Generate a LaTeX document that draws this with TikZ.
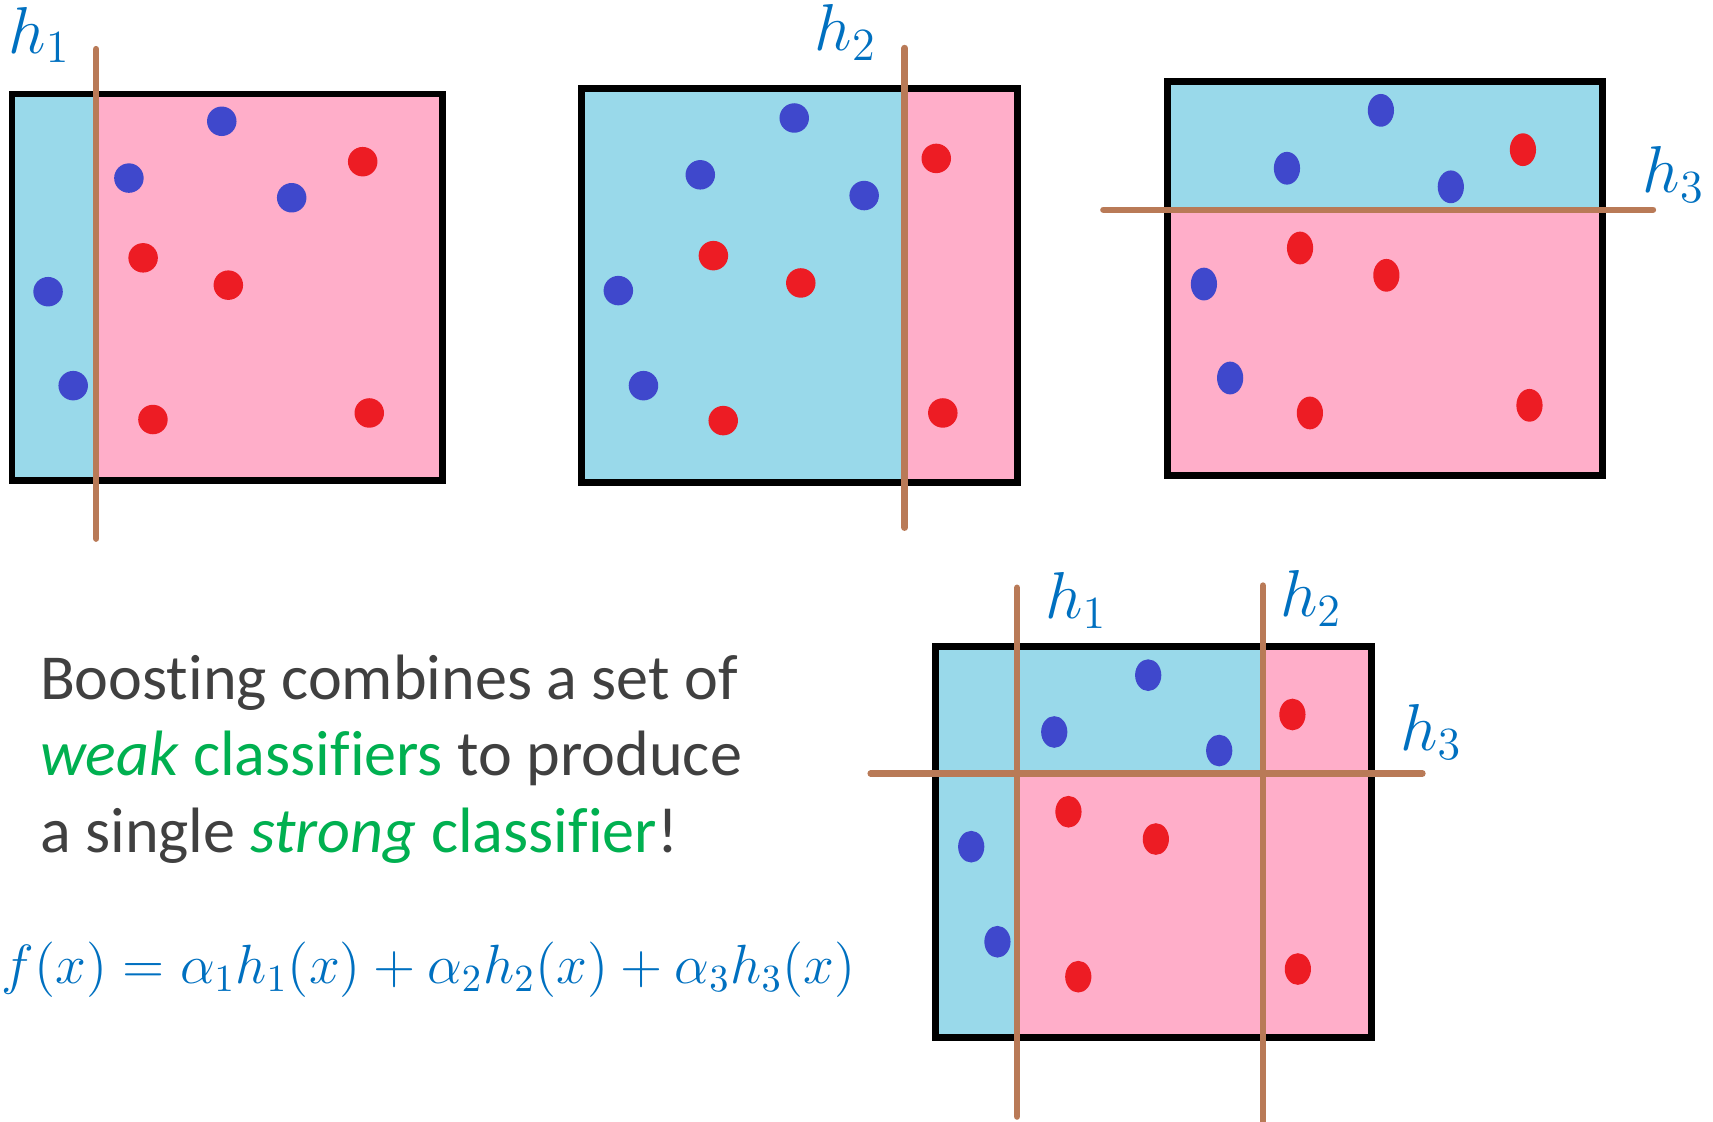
\documentclass[tikz,border=0pt]{standalone}
\usepackage{fontspec}
\setmainfont{Carlito}[Ligatures=NoCommon]
\usetikzlibrary{positioning}
\definecolor{cyanfill}{HTML}{99D9EA}
\definecolor{pinkfill}{HTML}{FFAEC9}
\definecolor{dotblue}{HTML}{3F48CC}
\definecolor{dotred}{HTML}{ED1C24}
\definecolor{cutbrown}{HTML}{B97A57}
\definecolor{hblue}{HTML}{0070C0}
\definecolor{txtgray}{HTML}{404040}
\definecolor{wgreen}{HTML}{00B050}

\begin{document}
\begin{tikzpicture}[
    panel/.style={draw=black, line width=1.8pt},
    cut/.style={draw=cutbrown, line width=1.7pt, line cap=round},
    hlabel/.style={text=hblue, font=\fontsize{17}{20}\selectfont, inner sep=0pt},
    msg/.style={text=txtgray, font=\fontsize{16.7}{20}\selectfont, inner sep=0pt, anchor=base west},
]
\useasboundingbox (0,0) rectangle (15.68,-10.27);

% panel 1: split by h1
\fill[cyanfill] (0.11,-0.86) rectangle (0.88,-4.40);
\fill[pinkfill] (0.88,-0.86) rectangle (4.05,-4.40);
\draw[panel] (0.11,-0.86) rectangle (4.05,-4.40);
\foreach \x/\y in {2.03/1.11, 1.18/1.63, 2.67/1.81, 0.44/2.67, 0.67/3.53}
  \fill[dotblue] (\x,-\y) circle (0.135);
\foreach \x/\y in {3.32/1.48, 1.31/2.36, 2.09/2.61, 1.40/3.84, 3.38/3.78}
  \fill[dotred] (\x,-\y) circle (0.135);
\draw[cut] (0.88,-0.45) -- (0.88,-4.93);
\node[hlabel] (lab1) at (0.36,-0.32) {$h_1$};

% panel 2: split by h2
\fill[cyanfill] (5.32,-0.81) rectangle (8.28,-4.42);
\fill[pinkfill] (8.28,-0.81) rectangle (9.31,-4.42);
\draw[panel] (5.32,-0.81) rectangle (9.31,-4.42);
\foreach \x/\y in {7.27/1.08, 6.41/1.60, 7.91/1.79, 5.66/2.66, 5.89/3.53}
  \fill[dotblue] (\x,-\y) circle (0.135);
\foreach \x/\y in {8.57/1.45, 6.53/2.34, 7.33/2.59, 6.62/3.85, 8.63/3.78}
  \fill[dotred] (\x,-\y) circle (0.135);
\draw[cut] (8.28,-0.44) -- (8.28,-4.83);
\node[hlabel] (lab2) at (7.74,-0.30) {$h_2$};

% panel 3: split by h3
\fill[cyanfill] (10.69,-0.75) rectangle (14.67,-1.92);
\fill[pinkfill] (10.69,-1.92) rectangle (14.67,-4.35);
\draw[panel] (10.69,-0.75) rectangle (14.67,-4.35);
\foreach \x/\y in {12.64/1.01, 11.78/1.54, 13.28/1.71, 11.02/2.60, 11.26/3.46}
  \fill[dotblue] (\x,-\y) ellipse (0.12 and 0.15);
\foreach \x/\y in {13.94/1.37, 11.90/2.27, 12.69/2.52, 11.99/3.78, 14.00/3.71}
  \fill[dotred] (\x,-\y) ellipse (0.12 and 0.15);
\draw[cut] (10.10,-1.92) -- (15.13,-1.92);
\node[hlabel] (lab3) at (15.32,-1.60) {$h_3$};

% panel 4: all three together
\fill[cyanfill] (8.56,-5.92) rectangle (9.31,-9.50);
\fill[cyanfill] (9.31,-5.92) rectangle (11.56,-7.08);
\fill[pinkfill] (9.31,-7.08) rectangle (11.56,-9.50);
\fill[pinkfill] (11.56,-5.92) rectangle (12.55,-9.50);
\draw[panel] (8.56,-5.92) rectangle (12.55,-9.50);
\foreach \x/\y in {10.51/6.18, 9.65/6.70, 11.16/6.87, 8.89/7.75, 9.13/8.62}
  \fill[dotblue] (\x,-\y) ellipse (0.12 and 0.145);
\foreach \x/\y in {11.83/6.54, 9.78/7.43, 10.58/7.68, 9.87/8.94, 11.88/8.87}
  \fill[dotred] (\x,-\y) ellipse (0.12 and 0.145);
\draw[cut] (9.31,-5.38) -- (9.31,-10.22);
\draw[cut] (11.56,-5.36) -- (11.56,-10.27);
\draw[cut] (7.97,-7.08) -- (13.02,-7.08);
\node[hlabel] (lab4) at (9.85,-5.50) {$h_1$};
\node[hlabel] (lab5) at (12.00,-5.48) {$h_2$};
\node[hlabel] (lab6) at (13.10,-6.70) {$h_3$};

% message and formula
\node[msg] (line1) at (0.36,-6.40) {Boosting combines a set of};
\node[msg] (line2) at (0.36,-7.10) {\textcolor{wgreen}{\itshape weak} \textcolor{wgreen}{classifiers} to produce};
\node[msg] (line3) at (0.36,-7.80) {a single \textcolor{wgreen}{\itshape strong} \textcolor{wgreen}{classifier}!};
\node[text=hblue, font=\fontsize{14.6}{17}\selectfont, inner sep=0pt, anchor=base west] (form) at (0.01,-9.00)
  {$f(x)=\alpha_1 h_1(x)+\alpha_2 h_2(x)+\alpha_3 h_3(x)$};
\end{tikzpicture}
\end{document}
